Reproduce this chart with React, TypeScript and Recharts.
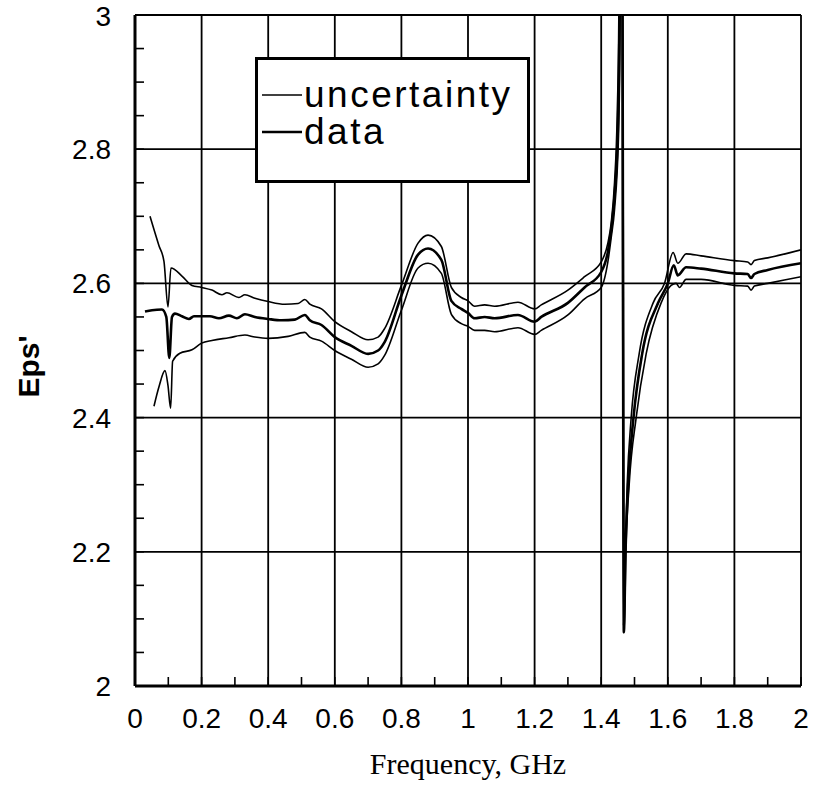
import { LineChart, Line, XAxis, YAxis, CartesianGrid, Legend, Label } from 'recharts';

// axis ticks
const freqTicks = [0, 0.2, 0.4, 0.6, 0.8, 1, 1.2, 1.4, 1.6, 1.8, 2];
const freqMinorTicks = [
  0, 0.05, 0.1, 0.15, 0.2, 0.25, 0.3, 0.35, 0.4, 0.45, 0.5, 0.55, 0.6, 0.65, 0.7, 0.75, 0.8, 0.85, 0.9, 0.95,
  1, 1.05, 1.1, 1.15, 1.2, 1.25, 1.3, 1.35, 1.4, 1.45, 1.5, 1.55, 1.6, 1.65, 1.7, 1.75, 1.8, 1.85, 1.9, 1.95, 2,
];
const epsTicks = [2, 2.2, 2.4, 2.6, 2.8, 3];
const epsMinorTicks = [
  2, 2.05, 2.1, 2.15, 2.2, 2.25, 2.3, 2.35, 2.4, 2.45, 2.5, 2.55, 2.6, 2.65, 2.7, 2.75, 2.8, 2.85, 2.9, 2.95, 3,
];

// upper uncertainty bound
const upperFreq = [
  0.045, 0.072, 0.087, 0.099, 0.108, 0.141, 0.171, 0.2, 0.231, 0.261, 0.276, 0.312, 0.33, 0.36, 0.4, 0.45, 0.49,
  0.51, 0.525, 0.56, 0.6, 0.65, 0.7, 0.73, 0.75, 0.8, 0.85, 0.88, 0.92, 0.95, 0.98, 1.0, 1.02, 1.05, 1.08, 1.15,
  1.2, 1.22, 1.3, 1.35, 1.4, 1.42, 1.43, 1.44, 1.448, 1.453, 1.456, 1.461, 1.463, 1.467, 1.472, 1.478, 1.49,
  1.514, 1.556, 1.59, 1.616, 1.63, 1.655, 1.7, 1.8, 1.84, 1.85, 1.86, 1.9, 2.0,
];
const upperEps = [
  2.7, 2.656, 2.633, 2.565, 2.623, 2.611, 2.597, 2.594, 2.59, 2.583, 2.586, 2.579, 2.583, 2.578, 2.573, 2.569, 2.57,
  2.576, 2.569, 2.562, 2.543, 2.528, 2.516, 2.52, 2.533, 2.597, 2.66, 2.672, 2.655, 2.594, 2.579, 2.574, 2.566,
  2.568, 2.566, 2.572, 2.562, 2.568, 2.59, 2.61, 2.632, 2.66, 2.69, 2.75, 2.85, 3.0, 3.3, 3.3, 3.0, 2.09, 2.2, 2.3,
  2.4, 2.495, 2.571, 2.6, 2.646, 2.63, 2.644, 2.641, 2.634, 2.632, 2.628, 2.634, 2.638, 2.65,
];

// measured data
const dataFreq = [
  0.03, 0.051, 0.081, 0.094, 0.103, 0.111, 0.12, 0.141, 0.162, 0.177, 0.2, 0.225, 0.252, 0.282, 0.306, 0.33, 0.36,
  0.4, 0.44, 0.48, 0.51, 0.525, 0.56, 0.6, 0.65, 0.7, 0.73, 0.75, 0.8, 0.85, 0.88, 0.92, 0.95, 0.98, 1.0, 1.02,
  1.05, 1.08, 1.15, 1.2, 1.22, 1.3, 1.35, 1.4, 1.42, 1.43, 1.44, 1.45, 1.455, 1.458, 1.462, 1.464, 1.468, 1.473,
  1.481, 1.497, 1.523, 1.571, 1.6, 1.618, 1.63, 1.655, 1.7, 1.8, 1.84, 1.85, 1.86, 1.9, 2.0,
];
const dataEps = [
  2.558, 2.56, 2.561, 2.55, 2.489, 2.55, 2.555, 2.551, 2.547, 2.551, 2.551, 2.551, 2.548, 2.552, 2.548, 2.554, 2.55,
  2.547, 2.545, 2.546, 2.553, 2.545, 2.538, 2.52, 2.507, 2.495, 2.5, 2.513, 2.582, 2.643, 2.652, 2.635, 2.574, 2.562,
  2.556, 2.548, 2.55, 2.548, 2.553, 2.543, 2.55, 2.571, 2.594, 2.617, 2.647, 2.68, 2.73, 2.83, 3.0, 3.3, 3.3, 3.0,
  2.08, 2.2, 2.3, 2.4, 2.495, 2.571, 2.6, 2.627, 2.612, 2.624, 2.622, 2.615, 2.614, 2.608, 2.614, 2.62, 2.63,
];

// lower uncertainty bound
const lowerFreq = [
  0.057, 0.072, 0.09, 0.099, 0.107, 0.113, 0.135, 0.171, 0.2, 0.231, 0.282, 0.33, 0.36, 0.4, 0.46, 0.51, 0.525,
  0.56, 0.6, 0.65, 0.7, 0.73, 0.75, 0.8, 0.85, 0.88, 0.92, 0.95, 0.98, 1.0, 1.02, 1.05, 1.08, 1.15, 1.2, 1.22, 1.3,
  1.35, 1.4, 1.42, 1.43, 1.44, 1.452, 1.457, 1.46, 1.463, 1.465, 1.469, 1.474, 1.484, 1.505, 1.535, 1.58, 1.61,
  1.625, 1.635, 1.655, 1.7, 1.8, 1.84, 1.85, 1.86, 1.9, 2.0,
];
const lowerEps = [
  2.417, 2.446, 2.47, 2.448, 2.414, 2.484, 2.496, 2.501, 2.511, 2.515, 2.519, 2.523, 2.52, 2.518, 2.521, 2.527, 2.52,
  2.514, 2.5, 2.487, 2.475, 2.48, 2.493, 2.56, 2.623, 2.63, 2.615, 2.554, 2.54, 2.536, 2.53, 2.53, 2.528, 2.534,
  2.524, 2.53, 2.553, 2.577, 2.594, 2.632, 2.668, 2.71, 2.82, 3.0, 3.3, 3.3, 3.0, 2.08, 2.2, 2.3, 2.4, 2.495, 2.571,
  2.597, 2.6, 2.594, 2.606, 2.606, 2.597, 2.596, 2.59, 2.596, 2.6, 2.61,
];

const legendOrder = ['uncertainty', 'data'];

const toPoints = (freq: number[], eps: number[]) => freq.map((f, i) => ({ freq: f, eps: eps[i] }));

const sans = '"Liberation Sans", Arial, Helvetica, sans-serif';
const serif = '"Liberation Serif", "Times New Roman", serif';
const legendStroke: Record<string, number> = { uncertainty: 1.6, data: 2.6 };

const LegendBox = ({ payload }: any) => {
  const items = (payload || [])
    .filter((p: any) => p.type !== 'none')
    .sort((a: any, b: any) => legendOrder.indexOf(a.value) - legendOrder.indexOf(b.value));
  return (
    <div
      style={{
        width: 275,
        height: 126,
        boxSizing: 'border-box',
        border: '3px solid #000',
        background: '#fff',
        paddingTop: 16,
        fontFamily: sans,
      }}
    >
      {items.map((p: any) => (
        <div key={p.value} style={{ display: 'flex', alignItems: 'center', height: 37 }}>
          <svg width={42} height={10} style={{ marginLeft: 4, flex: 'none' }}>
            <line x1={0} y1={5} x2={40} y2={5} stroke="#000" strokeWidth={legendStroke[p.value] || 2} />
          </svg>
          <span
            style={{
              display: 'block',
              height: 37,
              fontSize: 37,
              lineHeight: '37px',
              letterSpacing: 2.5,
              color: '#000',
              overflow: 'visible',
            }}
          >
            {p.value}
          </span>
        </div>
      ))}
    </div>
  );
};

// minor tick marks: tick lines only, no labels
const NoLabel = () => <g />;

export default function App() {
  return (
    <div style={{ position: 'absolute', left: 0, top: 0, width: 822, height: 786, background: '#fff' }}>
      <LineChart width={822} height={786} margin={{ top: 15, right: 21, bottom: 0, left: 0 }}>
        <CartesianGrid stroke="#000" strokeWidth={1.8} />
        <XAxis
          dataKey="freq"
          type="number"
          domain={[0, 2]}
          ticks={freqTicks}
          allowDataOverflow
          height={100}
          tickSize={0}
          tickMargin={22}
          axisLine={{ stroke: '#000', strokeWidth: 3 }}
          tick={{ fill: '#000', fontSize: 28, fontFamily: sans }}
        >
          <Label
            value="Frequency, GHz"
            position="insideBottom"
            offset={12}
            style={{ fontFamily: serif, fontSize: 30, fill: '#000' }}
          />
        </XAxis>
        <XAxis
          xAxisId="minor"
          dataKey="freq"
          type="number"
          domain={[0, 2]}
          ticks={freqMinorTicks}
          allowDataOverflow
          mirror
          height={1}
          tick={NoLabel}
          axisLine={false}
          tickSize={9}
          tickLine={{ stroke: '#000', strokeWidth: 1.6 }}
        />
        <YAxis
          type="number"
          domain={[2, 3]}
          ticks={epsTicks}
          allowDataOverflow
          width={135}
          tickSize={0}
          tickMargin={24}
          axisLine={{ stroke: '#000', strokeWidth: 3 }}
          tick={{ fill: '#000', fontSize: 28, fontFamily: sans }}
        >
          <Label
            content={({ viewBox }: any) => {
              const cx = viewBox.x + 28;
              const cy = viewBox.y + viewBox.height / 2 + 16;
              return (
                <text
                  x={cx}
                  y={cy}
                  transform={`rotate(-90, ${cx}, ${cy})`}
                  textAnchor="middle"
                  dominantBaseline="central"
                  style={{ fontFamily: sans, fontSize: 30, fontWeight: 'bold', fill: '#000' }}
                >
                  Eps'
                </text>
              );
            }}
          />
        </YAxis>
        <YAxis
          yAxisId="minor"
          type="number"
          domain={[2, 3]}
          ticks={epsMinorTicks}
          allowDataOverflow
          mirror
          width={1}
          tick={NoLabel}
          axisLine={false}
          tickSize={9}
          tickLine={{ stroke: '#000', strokeWidth: 1.6 }}
        />
        <Legend
          layout="horizontal"
          verticalAlign="middle"
          align="center"
          wrapperStyle={{ position: 'absolute', left: 255, top: 57, width: 275 }}
          content={(props: any) => <LegendBox payload={props.payload} />}
        />
        <Line
          data={toPoints(upperFreq, upperEps)}
          dataKey="eps"
          name="uncertainty"
          type="monotone"
          stroke="#000"
          strokeWidth={1.6}
          dot={false}
          isAnimationActive={false}
        />
        <Line
          data={toPoints(dataFreq, dataEps)}
          dataKey="eps"
          name="data"
          type="monotone"
          stroke="#000"
          strokeWidth={2.6}
          dot={false}
          isAnimationActive={false}
        />
        {/* lower bound uses the minor-tick axes (same domain and range) */}
        <Line
          xAxisId="minor"
          yAxisId="minor"
          data={toPoints(lowerFreq, lowerEps)}
          dataKey="eps"
          name="lower"
          legendType="none"
          type="monotone"
          stroke="#000"
          strokeWidth={1.6}
          dot={false}
          isAnimationActive={false}
        />
      </LineChart>
    </div>
  );
}
